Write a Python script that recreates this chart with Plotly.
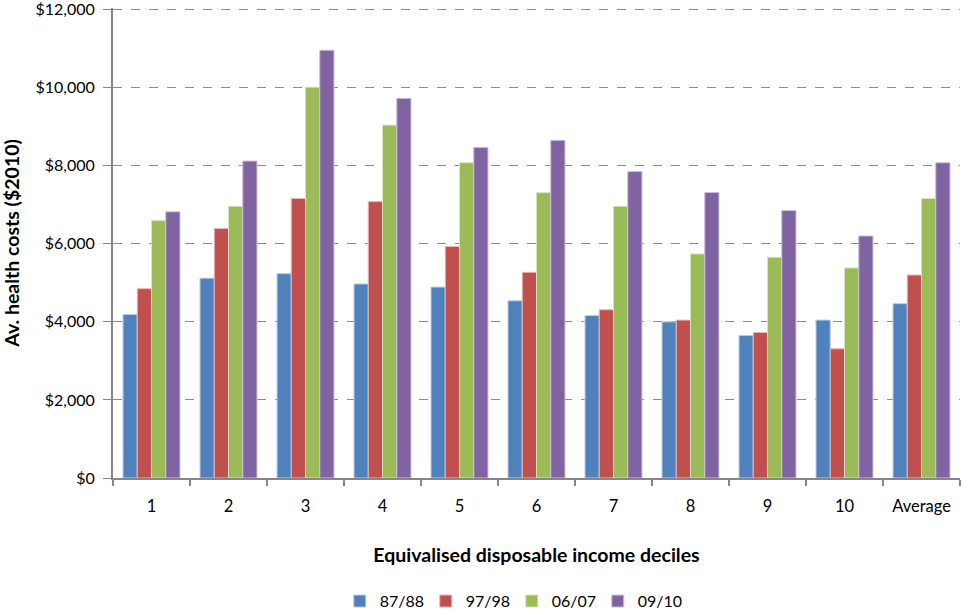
import plotly.graph_objects as go

# Average health costs by equivalised disposable income decile ($2010)
categories = ["1", "2", "3", "4", "5", "6", "7", "8", "9", "10", "Average"]
series_names = ["87/88", "97/98", "06/07", "09/10"]
costs_8788 = [4190, 5120, 5235, 4970, 4890, 4540, 4160, 4000, 3650, 4045, 4465]
costs_9798 = [4850, 6390, 7160, 7080, 5930, 5270, 4310, 4045, 3730, 3310, 5200]
costs_0607 = [6595, 6960, 10010, 9040, 8075, 7310, 6960, 5740, 5655, 5380, 7160]
costs_0910 = [6820, 8120, 10960, 9725, 8470, 8650, 7850, 7315, 6850, 6200, 8075]
y_ticks = [0, 2000, 4000, 6000, 8000, 10000, 12000]
y_tick_labels = ["$" + f"{v:,}" for v in y_ticks]

colors = ["#4F81BD", "#C0504D", "#9BBB59", "#8064A2"]
edge_colors = ["#B9CDE5", "#E6B9B8", "#D7E4BD", "#CCC1DA"]
values = [costs_8788, costs_9798, costs_0607, costs_0910]

FONT = "Lato, 'Liberation Sans', sans-serif"

fig = go.Figure()
for name, vals, col, edge in zip(series_names, values, colors, edge_colors):
    fig.add_trace(go.Bar(
        x=categories, y=vals, name=name,
        marker=dict(color=col, line=dict(color=edge, width=1)),
    ))

fig.update_layout(
    width=962, height=609,
    margin=dict(l=113, r=2, t=8, b=131, autoexpand=False),
    paper_bgcolor="white", plot_bgcolor="white",
    barmode="group", bargap=0.26, bargroupgap=0,
    font=dict(family=FONT, color="#000000", size=16),
    showlegend=True,
    legend=dict(
        orientation="h", x=0.532, xanchor="center", xref="container",
        y=-0.262, yanchor="middle", yref="paper",
        font=dict(size=16, family=FONT),
        itemwidth=30, entrywidth=41, entrywidthmode="pixels",
        tracegroupgap=0, traceorder="normal",
    ),
    xaxis=dict(
        type="category",
        showline=True, linecolor="#868686", linewidth=2,
        ticks="outside", tickson="boundaries", ticklen=6, tickcolor="#868686", tickwidth=2,
        ticklabelstandoff=12, tickangle=0,
        tickfont=dict(size=16.5, family=FONT),
        title=dict(text="<b>Equivalised disposable income deciles</b>",
                   font=dict(size=19.5, family=FONT), standoff=34),
        showgrid=False,
    ),
    yaxis=dict(
        range=[0, 12040], tickmode="array", tickvals=y_ticks, ticktext=y_tick_labels,
        ticklabeloverflow="allow",
        showline=True, linecolor="#868686", linewidth=2,
        ticks="outside", ticklen=8, tickcolor="#868686", tickwidth=1,
        ticklabelstandoff=5,
        tickfont=dict(size=16, family=FONT),
        showgrid=True, gridcolor="#8C8C8C", griddash="dash", gridwidth=1,
        zeroline=False,
        title=dict(text="<b>Av. health costs ($2010)</b>",
                   font=dict(size=19.5, family=FONT), standoff=11),
    ),
)

fig.write_html("out.html")
